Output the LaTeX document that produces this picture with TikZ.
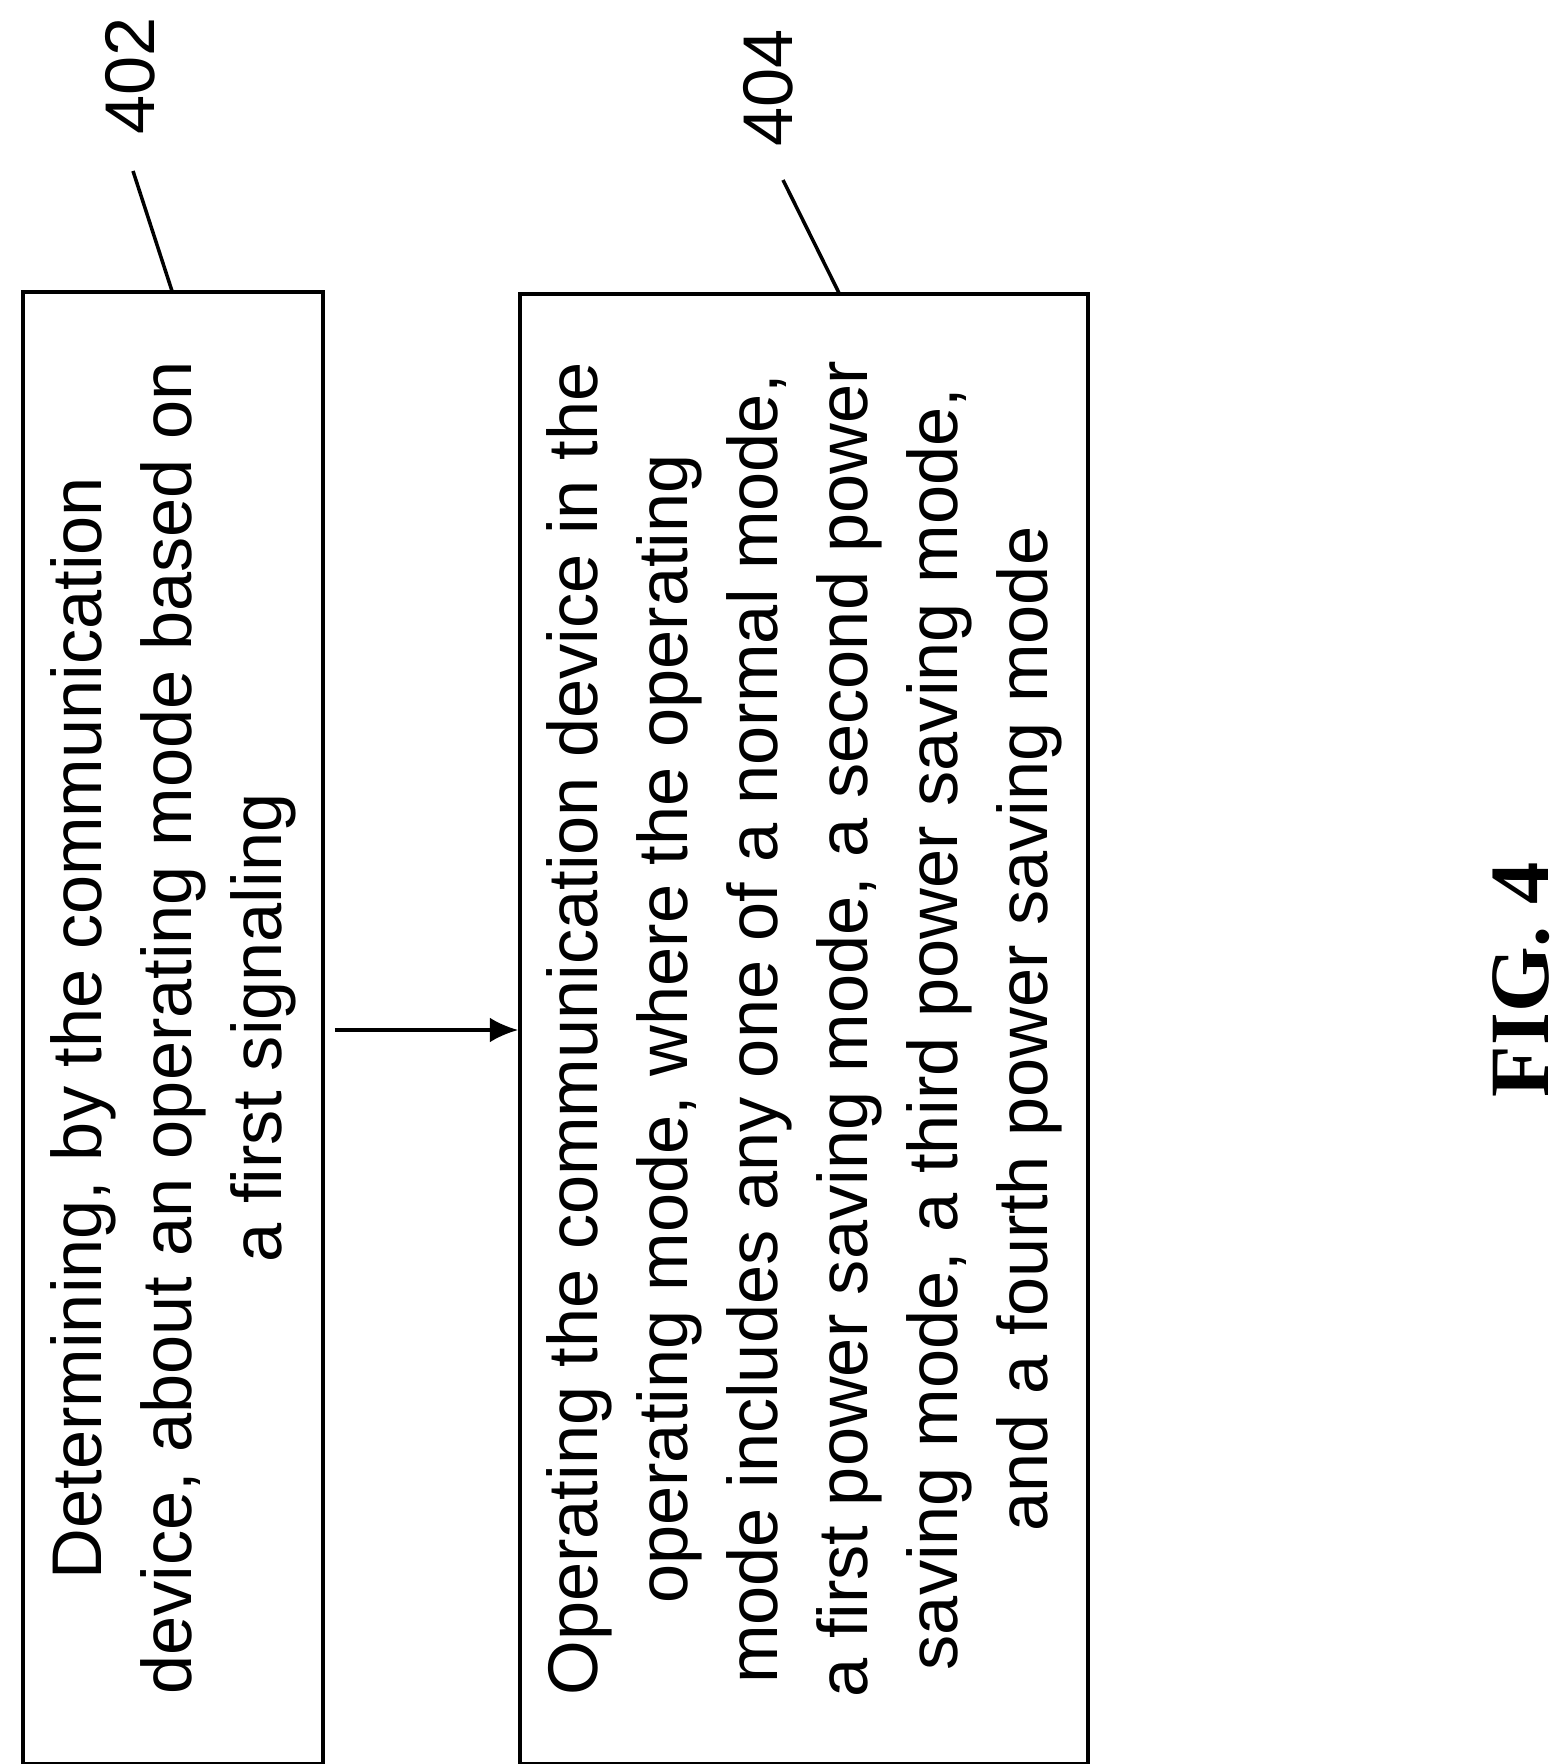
\documentclass[tikz,border=0pt]{standalone}
\usepackage{fontspec}
\setmainfont{Liberation Sans}
\newfontfamily\figfont{Liberation Serif}
\usetikzlibrary{positioning,arrows.meta}
\begin{document}
\begin{tikzpicture}[x=0.01cm,y=-0.01cm]
  \tikzstyle{stepbox}=[rectangle, draw=black, line width=1pt, rotate=90, align=center, font=\fontsize{20}{25.6}\selectfont]
  \useasboundingbox (0,0) rectangle (1566,1764);

  \node[stepbox, minimum width=14.71cm, minimum height=3.0cm] (b402) at (173,1028) {Determining, by the communication\\device, about an operating mode based on\\a first signaling};
  \node[stepbox, minimum width=14.69cm, minimum height=5.68cm] (b404) at (804,1029) {Operating the communication device in the\\operating mode, where the operating\\mode includes any one of a normal mode,\\a first power saving mode, a second power\\saving mode, a third power saving mode,\\and a fourth power saving mode};

  \draw[-{Latex[length=8pt,width=7pt]}, line width=0.9pt] (b402.south) ++(10,2) coordinate (a1) -- (a1 -| b404.north);

  % labels
  \node[rotate=90, font=\fontsize{20}{24}\selectfont] (l402) at (130,76) {402};
  \node[rotate=90, font=\fontsize{20}{24}\selectfont] (l404) at (768,88) {404};
  \coordinate (c402) at (172,291);
  \coordinate (c404) at (840,295);
  \draw[line width=1pt] (133,171) -- (c402);
  \draw[line width=1pt] (783,180) -- (c404);

  \node[rotate=90, font=\figfont\bfseries\fontsize{24}{28}\selectfont] (fig) at (1521,980) {FIG. 4};
\end{tikzpicture}
\end{document}
